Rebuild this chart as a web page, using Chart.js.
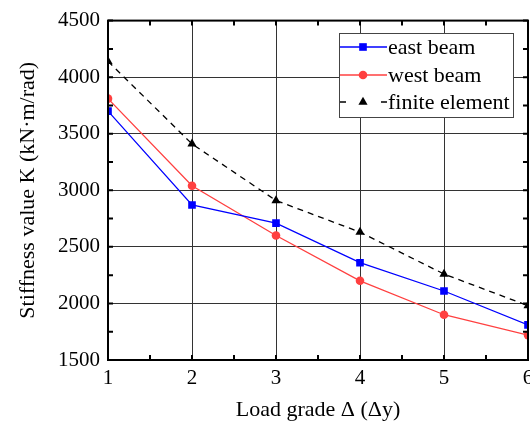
<!DOCTYPE html>
<html>
<head>
<meta charset="utf-8">
<script src="https://cdn.jsdelivr.net/npm/chart.js@4.4.1/dist/chart.umd.min.js"></script>
<style>
  html, body { margin:0; padding:0; background:#fff; overflow:hidden; }
  #wrap { width:545px; height:423px; }
</style>
</head>
<body>
<div id="wrap"><canvas id="c" width="545" height="423"></canvas></div>
<script>
// load grades and stiffness values
const loadGrades    = [1, 2, 3, 4, 5, 6];
const eastBeam      = [3700, 2870, 2710, 2360, 2110, 1810];
const westBeam      = [3810, 3040, 2600, 2200, 1900, 1720];
const finiteElement = [4140, 3410, 2910, 2630, 2260, 1980];
const seriesNames   = ['east beam', 'west beam', 'finite element'];
const xTitle = 'Load grade \u0394 (\u0394y)';
const yTitle = 'Stiffness value K (kN\u00b7m/rad)';

const SERIF = "'Liberation Serif', 'Times New Roman', serif";
const pts = arr => arr.map((v,i)=>({x:loadGrades[i], y:v}));

const styles = [
  {color:'#0000ff', pointStyle:'rect', radius:5.4, dash:[]},
  {color:'#ff4040', pointStyle:'circle', radius:4.3, dash:[]},
  {color:'#000000', pointStyle:'triangle', radius:5.3, dash:[6,5]},
];

// frame with inward ticks on all four sides
const framePlugin = {
  id:'frame',
  afterDatasetsDraw(chart){
    const {ctx, chartArea:a, scales:{x, y}} = chart;
    ctx.save();
    ctx.strokeStyle='#000'; ctx.lineWidth=2;
    ctx.beginPath();
    for(let v=1; v<=6.001; v+=0.5){
      const px=x.getPixelForValue(v);
      ctx.moveTo(px,a.bottom); ctx.lineTo(px,a.bottom-5);
      ctx.moveTo(px,a.top); ctx.lineTo(px,a.top+5);
    }
    for(let v=1500; v<=4500; v+=250){
      const py=y.getPixelForValue(v);
      ctx.moveTo(a.left,py); ctx.lineTo(a.left+5,py);
      ctx.moveTo(a.right,py); ctx.lineTo(a.right-5,py);
    }
    ctx.stroke();
    ctx.strokeRect(a.left,a.top,a.right-a.left,a.bottom-a.top);
    ctx.restore();
  }
};

// boxed legend in the upper right
const legendPlugin = {
  id:'boxLegend',
  afterDraw(chart){
    const ctx=chart.ctx;
    const bx=339, by=33, bw=174, bh=84;
    ctx.save();
    ctx.fillStyle='#fff'; ctx.fillRect(bx,by,bw,bh);
    ctx.strokeStyle='#444'; ctx.lineWidth=1;
    ctx.strokeRect(bx+0.5,by+0.5,bw,bh);
    ctx.font='22px '+SERIF; ctx.textBaseline='middle'; ctx.textAlign='left';
    const rows=[47,75,102];
    chart.data.datasets.forEach((ds,i)=>{
      const yy=rows[i], st=styles[i];
      ctx.strokeStyle=st.color; ctx.lineWidth=1.3;
      ctx.beginPath();
      if(st.dash.length){
        ctx.moveTo(340,yy); ctx.lineTo(346,yy);
        ctx.moveTo(381,yy); ctx.lineTo(387,yy);
      } else { ctx.moveTo(340,yy); ctx.lineTo(387,yy); }
      ctx.stroke();
      ctx.fillStyle=st.color;
      Chart.helpers.drawPoint(ctx,{pointStyle:st.pointStyle, radius:st.radius, borderWidth:0, rotation:0},363,yy);
      ctx.fillStyle='#000';
      ctx.fillText(ds.label,388,yy+1);
    });
    ctx.restore();
  }
};

const series=[eastBeam, westBeam, finiteElement];
new Chart(document.getElementById('c'),{
  type:'line',
  data:{datasets: series.map((s,i)=>({
    label:seriesNames[i], data:pts(s),
    borderColor:styles[i].color, backgroundColor:styles[i].color,
    borderWidth:1.3, borderDash:styles[i].dash,
    pointStyle:styles[i].pointStyle, pointRadius:styles[i].radius,
    pointBorderWidth:0, tension:0, clip:0
  }))},
  options:{
    responsive:false, animation:false,
    layout:{padding:{left:0, top:20, right:17, bottom:0}},
    plugins:{legend:{display:false}, tooltip:{enabled:false}},
    scales:{
      x:{type:'linear', min:1, max:6,
        afterFit(s){ s.height=63; },
        ticks:{stepSize:1, padding:6, color:'#000', font:{family:SERIF, size:21}, callback:v=>String(v)},
        grid:{color:'#333', lineWidth:1, drawTicks:false},
        border:{display:false},
        title:{display:true, text:xTitle, color:'#000', font:{family:SERIF, size:22}, padding:{top:1,bottom:0}}
      },
      y:{min:1500, max:4500,
        afterFit(s){ s.width=108; },
        ticks:{stepSize:500, padding:8, color:'#000', font:{family:SERIF, size:21}, callback:v=>String(v)},
        grid:{color:'#333', lineWidth:1, drawTicks:false},
        border:{display:false},
        title:{display:true, text:yTitle, color:'#000', font:{family:SERIF, size:22}, padding:{top:15,bottom:0}}
      }
    }
  },
  plugins:[framePlugin, legendPlugin]
});
</script>
</body>
</html>
